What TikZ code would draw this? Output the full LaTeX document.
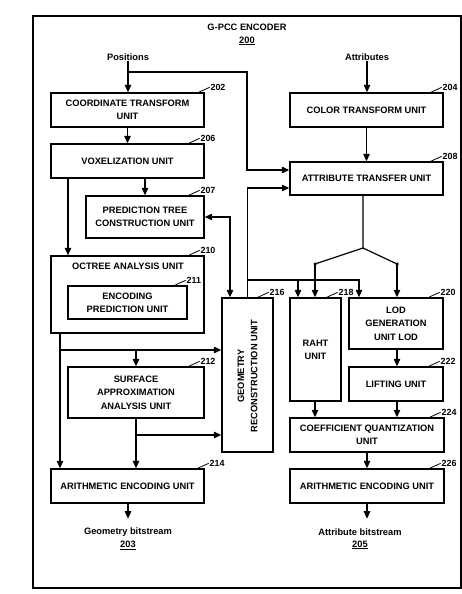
\documentclass[tikz,border=0pt]{standalone}
\usepackage{fontspec}
\setmainfont{Liberation Sans}
\usetikzlibrary{arrows.meta}
\begin{document}
\begin{tikzpicture}[x=1pt,y=-1pt,
  txt/.style={font=\fontsize{9.3}{13.3}\selectfont\bfseries, align=center, inner sep=0pt},
  box/.style={txt, draw, line width=1.4pt},
  numtxt/.style={font=\fontsize{8.9}{10}\selectfont\bfseries, inner sep=0.5pt, anchor=west},
  conn/.style={line width=1.2pt},
  arr/.style={conn, -{Triangle[length=7.5pt,width=6.5pt]}},
  darr/.style={conn, {Triangle[length=7.5pt,width=6.5pt]}-{Triangle[length=7.5pt,width=6.5pt]}},
  dot/.style={circle, fill, inner sep=0pt, minimum size=3.5pt}]
\useasboundingbox (0,0) rectangle (462,594);
\draw[line width=1.4pt] (33,16) rectangle (461,588);

\newcommand\numlab[3]{\draw[line width=0.8pt] (#1.north east) ++(-#2,0) -- ++(11,-5) node[numtxt] {#3};}

% titles
\node[txt] (title) at (247,27) {G-PCC ENCODER};
\node[txt] (t200) at (247,41) {\underline{200}};
\node[txt] (pos) at (128,57) {Positions};
\node[txt] (attr) at (367,57) {Attributes};

% boxes
\node[box, minimum width=153pt, minimum height=34pt] (coord) at (127.5,110) {COORDINATE TRANSFORM\\UNIT};
\node[box, minimum width=153pt, minimum height=34pt] (color) at (366.5,110) {COLOR TRANSFORM UNIT};
\node[box, minimum width=153pt, minimum height=34pt] (voxel) at (127.5,161) {VOXELIZATION UNIT};
\node[box, minimum width=153pt, minimum height=33pt] (attrT) at (366.5,178.5) {ATTRIBUTE TRANSFER UNIT};
\node[box, minimum width=118pt, minimum height=42pt] (predT) at (145,217) {PREDICTION TREE\\CONSTRUCTION UNIT};
\node[box, minimum width=153pt, minimum height=77pt] (octree) at (127.5,294.5) {};
\node[txt] (octT) at (128,266) {OCTREE ANALYSIS UNIT};
\node[box, minimum width=119pt, minimum height=33pt] (encpred) at (127.5,302.5) {ENCODING\\PREDICTION UNIT};
\node[box, minimum width=51pt, minimum height=154pt] (geom) at (247.5,375) {};
\node[txt, rotate=90] (geomT) at (247.5,376) {GEOMETRY\\RECONSTRUCTION UNIT};
\node[box, minimum width=51pt, minimum height=103pt] (raht) at (315.5,349.5) {RAHT\\UNIT};
\node[box, minimum width=94pt, minimum height=51pt] (lod) at (396,323.5) {LOD\\GENERATION\\UNIT LOD};
\node[box, minimum width=94pt, minimum height=34pt] (lift) at (396,384) {LIFTING UNIT};
\node[box, minimum width=154pt, minimum height=34pt] (coef) at (367,435) {COEFFICIENT QUANTIZATION\\UNIT};
\node[box, minimum width=154pt, minimum height=34pt] (arithR) at (367,486) {ARITHMETIC ENCODING UNIT};
\node[box, minimum width=153pt, minimum height=34pt] (arithL) at (127.5,486) {ARITHMETIC ENCODING UNIT};
\node[box, minimum width=136pt, minimum height=51pt] (surf) at (136,392.5) {SURFACE\\APPROXIMATION\\ANALYSIS UNIT};

% outputs
\node[txt] (gbs) at (128,532) {Geometry bitstream};
\node[txt] (g203) at (128,545) {\underline{203}};
\node[txt] (abs) at (360,532) {Attribute bitstream};
\node[txt] (a205) at (360,545) {\underline{205}};

% number labels
\numlab{coord}{6}{202}
\numlab{color}{13}{204}
\numlab{voxel}{16}{206}
\numlab{attrT}{13}{208}
\numlab{predT}{16}{207}
\numlab{octree}{16}{210}
\numlab{encpred}{13}{211}
\numlab{geom}{16}{216}
\numlab{raht}{15}{218}
\numlab{lod}{15}{220}
\numlab{lift}{15}{222}
\numlab{coef}{15}{224}
\numlab{arithR}{15}{226}
\numlab{surf}{16}{212}
\numlab{arithL}{7}{214}

% connectors
\coordinate (pb) at (128,72);
\coordinate (c1) at (247,170);
\draw[arr] (pos.south) -- (pos.south |- coord.north);
\draw[arr] (pb) -| (c1) -- (c1 -| attrT.west);
\draw[arr] (attr.south) -- (attr.south |- color.north);
\draw[arr] (color) -- (attrT);
\draw[arr] (coord) -- (voxel);
\draw[arr] (voxel.south -| predT.north) -- (predT.north);
\draw[arr] (voxel.south -| 68,0) -- (octree.north -| 68,0);
\draw[darr] (predT.east) -| (geom.north -| 230,0);
\draw[arr] (geom.north) |- (attrT.west |- 0,188);
\coordinate (gb) at (247.5,280);
\coordinate (gb2) at (298,280);
\draw[arr] (gb) -| (lod.north -| 359,0);
\draw[arr] (gb2) -- (raht.north -| gb2);

\coordinate (fork) at (363,248);
\coordinate (dl) at (315,264);
\coordinate (dr) at (397,264);
\draw[conn] (attrT.south -| fork) -- (fork) -- (dl);
\draw[conn] (fork) -- (dr);
\node[dot] (d1) at (dl) {};
\node[dot] (d2) at (dr) {};
\draw[arr] (dl) -- (dl |- raht.north);
\draw[arr] (dr) -- (dr |- lod.north);

\draw[arr] (lod.south -| dr) -- (lift.north -| dr);
\draw[arr] (raht.south -| dl) -- (coef.north -| dl);
\draw[arr] (lift.south -| dr) -- (coef.north -| dr);
\draw[arr] (coef) -- (arithR);
\draw[arr] (arithR.south) -- ++(0,15) coordinate (ao);
\draw[arr] (arithL.south -| pb) -- ++(0,15) coordinate (go);

\draw[arr] (octree.south -| 60,0) -- (arithL.north -| 60,0);
\draw[arr] (octree.south -| 60,0) |- (geom.west |- 0,350);
\draw[arr] (surf.north |- 0,350) -- (surf.north);
\draw[arr] (surf.south) -- (surf.south |- arithL.north);
\draw[arr] (surf.south |- 0,435) -- (geom.west |- 0,435);
\end{tikzpicture}
\end{document}
